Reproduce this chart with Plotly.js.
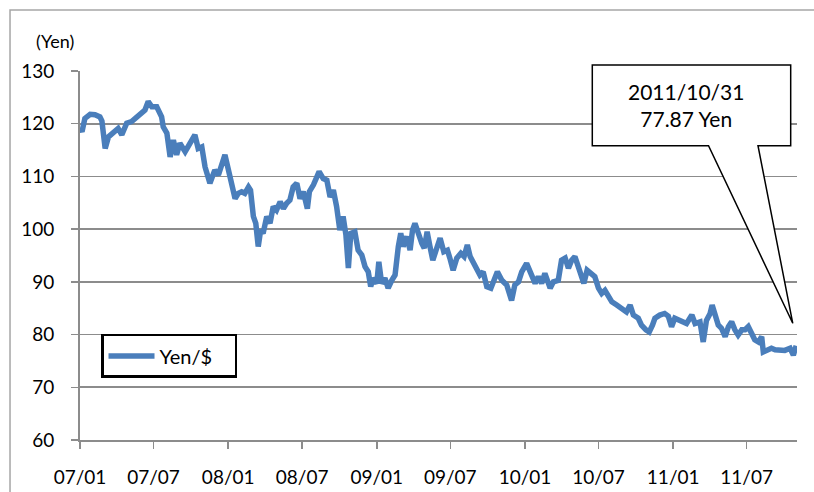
<!DOCTYPE html>
<html>
<head>
<meta charset="utf-8">
<script src="https://cdn.plot.ly/plotly-3.0.1.min.js"></script>
<style>html,body{margin:0;padding:0;background:#fff;}#chart{width:814px;height:492px;}</style>
</head>
<body>
<div id="chart"></div>
<script>
// Yen per US dollar
var dates = [
"2007-01-02","2007-01-06","2007-01-13","2007-01-26","2007-02-07","2007-02-19","2007-02-24","2007-03-04","2007-03-12","2007-03-24",
"2007-04-05","2007-04-14","2007-04-26","2007-05-08","2007-05-21","2007-06-02","2007-06-10","2007-06-18","2007-06-27","2007-07-09",
"2007-07-21","2007-07-25","2007-08-03","2007-08-11","2007-08-19","2007-08-27","2007-09-04","2007-09-17","2007-09-29","2007-10-11",
"2007-10-19","2007-10-28","2007-11-05","2007-11-17","2007-11-29","2007-12-08","2007-12-24","2008-01-01","2008-01-10","2008-01-18",
"2008-01-26","2008-02-03","2008-02-11","2008-02-20","2008-02-25","2008-03-03","2008-03-09","2008-03-15","2008-03-21","2008-03-27",
"2008-04-05","2008-04-13","2008-04-21","2008-04-29","2008-05-08","2008-05-16","2008-05-24","2008-06-01","2008-06-09","2008-06-18",
"2008-06-26","2008-07-04","2008-07-14","2008-07-19","2008-07-29","2008-08-06","2008-08-12","2008-08-22","2008-08-31","2008-09-08",
"2008-09-16","2008-09-24","2008-10-02","2008-10-10","2008-10-17","2008-10-23","2008-10-29","2008-11-08","2008-11-16","2008-11-25",
"2008-12-03","2008-12-11","2008-12-17","2008-12-23","2009-01-01","2009-01-06","2009-01-13","2009-01-21","2009-01-29","2009-02-07",
"2009-02-15","2009-02-23","2009-03-01","2009-03-07","2009-03-16","2009-03-24","2009-03-30","2009-04-05","2009-04-13","2009-04-22",
"2009-04-28","2009-05-05","2009-05-12","2009-05-19","2009-05-27","2009-06-06","2009-06-15","2009-06-24","2009-06-30","2009-07-08",
"2009-07-17","2009-07-27","2009-08-04","2009-08-12","2009-08-19","2009-08-27","2009-09-04","2009-09-12","2009-09-20","2009-09-29",
"2009-10-09","2009-10-17","2009-10-25","2009-11-05","2009-11-17","2009-11-29","2009-12-07","2009-12-16","2009-12-24","2010-01-05",
"2010-01-13","2010-01-26","2010-02-03","2010-02-11","2010-02-19","2010-03-04","2010-03-12","2010-03-24","2010-04-01","2010-04-10",
"2010-04-18","2010-04-26","2010-05-04","2010-05-12","2010-05-21","2010-05-26","2010-06-03","2010-06-14","2010-06-22","2010-07-01",
"2010-07-09","2010-07-17","2010-07-25","2010-08-03","2010-08-15","2010-08-27","2010-09-08","2010-09-17","2010-09-25","2010-10-07",
"2010-10-15","2010-10-26","2010-11-03","2010-11-11","2010-11-17","2010-11-29","2010-12-11","2010-12-20","2010-12-28","2011-01-05",
"2011-01-16","2011-01-22","2011-02-03","2011-02-16","2011-02-24","2011-03-08","2011-03-16","2011-03-24","2011-04-02","2011-04-07",
"2011-04-14","2011-04-22","2011-04-30","2011-05-09","2011-05-17","2011-05-25","2011-06-02","2011-06-10","2011-06-19","2011-06-27",
"2011-07-05","2011-07-13","2011-07-21","2011-07-30","2011-08-07","2011-08-11","2011-08-19","2011-08-31","2011-09-09","2011-09-21",
"2011-10-03","2011-10-16","2011-10-24","2011-10-31"
];
var yenPerDollar = [
119.0,118.5,121.0,121.8,121.7,121.3,120.5,115.3,117.5,118.2,
119.1,117.9,120.1,120.4,121.3,122.0,122.6,124.2,123.2,123.2,
121.3,119.4,118.2,113.7,116.9,114.1,116.3,114.7,116.3,117.9,
115.3,115.6,111.8,108.7,111.2,110.3,114.1,111.2,108.7,105.8,
106.8,107.1,106.8,108.0,107.4,102.4,101.1,96.7,99.8,99.2,
102.4,101.1,104.3,103.6,105.2,103.9,104.9,105.5,108.0,108.7,
105.8,107.1,103.9,107.1,108.4,110.0,110.9,109.6,109.3,106.1,
107.4,104.3,99.8,102.4,98.9,92.6,99.2,99.5,96.0,95.1,
92.9,91.9,89.1,90.7,89.7,93.8,89.7,90.7,88.8,90.3,
91.3,96.7,99.2,96.7,98.6,96.0,99.8,101.1,98.9,97.3,
96.4,99.5,96.7,94.1,96.0,98.3,95.7,96.0,94.5,92.2,
94.5,95.4,94.8,97.0,94.8,93.5,92.6,91.3,91.9,89.1,
88.8,90.3,91.9,90.3,89.4,86.5,89.4,90.0,91.9,93.5,
91.9,89.7,91.0,89.7,91.6,88.8,90.0,90.3,94.1,94.5,
92.6,94.1,94.8,92.9,91.6,89.7,92.2,91.6,91.0,88.8,
87.8,88.4,87.2,86.2,85.6,85.0,84.3,85.6,83.7,83.1,
81.8,80.9,80.5,81.8,83.1,83.7,84.0,83.5,81.5,83.1,
82.7,82.7,82.1,83.7,82.1,82.4,78.6,82.7,84.0,85.6,
83.4,81.8,81.2,79.6,81.5,82.4,80.9,79.9,80.9,80.9,
81.5,80.3,79.0,78.6,79.6,76.7,77.1,77.4,77.1,77.1,
77.0,77.4,76.1,77.87
];
var xTickDates = ["2007-01-01","2007-07-01","2008-01-01","2008-07-01","2009-01-01","2009-07-01","2010-01-01","2010-07-01","2011-01-01","2011-07-01"];
var xTickLabels = ["07/01","07/07","08/01","08/07","09/01","09/07","10/01","10/07","11/01","11/07"];
var seriesName = "Yen/$";
var calloutText = "2011/10/31<br>77.87 Yen";
var yUnit = "(Yen)";

var FONT = "Lato, 'Open Sans', sans-serif";
var trace = {
  x: dates, y: yenPerDollar, type: "scatter", mode: "lines", name: seriesName,
  line: {color: "#4a7ebb", width: 5.5}
};
var layout = {
  width: 814, height: 492,
  margin: {l: 80, r: 17, t: 71, b: 52},
  paper_bgcolor: "#ffffff", plot_bgcolor: "#ffffff",
  font: {family: FONT, size: 19, color: "#000"},
  showlegend: true,
  legend: {
    orientation: "h",
    x: 0.0293, y: 0.2873, xanchor: "left", yanchor: "top",
    bgcolor: "#ffffff", bordercolor: "#000000", borderwidth: 2.5,
    font: {family: FONT, size: 20, color: "#000"},
    itemwidth: 46, entrywidth: 70, entrywidthmode: "pixels"
  },
  xaxis: {
    type: "date", range: ["2007-01-01", "2011-11-02"],
    tickmode: "array", tickvals: xTickDates, ticktext: xTickLabels,
    ticks: "outside", ticklen: 7, tickwidth: 1.5, tickcolor: "#8c8c8c",
    showgrid: false, showline: true, linecolor: "#8c8c8c", linewidth: 2,
    zeroline: false, ticklabelstandoff: 12,
    tickfont: {family: FONT, size: 19, color: "#000"}
  },
  yaxis: {
    range: [60, 130], tickmode: "linear", tick0: 60, dtick: 10,
    ticks: "outside", ticklen: 7, tickwidth: 1.5, tickcolor: "#8c8c8c",
    showgrid: true, gridcolor: "#8c8c8c", gridwidth: 1.7,
    showline: true, linecolor: "#8c8c8c", linewidth: 2, zeroline: false,
    ticklabelstandoff: 13,
    tickfont: {family: FONT, size: 19, color: "#000"}
  },
  shapes: [
    {type: "path", xref: "paper", yref: "paper", layer: "above",
     path: "M -0.0976,-0.2 L -0.0976,1.1653 L 1.1,1.1653",
     line: {color: "#a6a6a6", width: 1.5}},
    {type: "path", xref: "paper", yref: "paper", layer: "above",
     path: "M 0.7145,1.0163 L 0.9912,1.0163 L 0.9912,0.7976 L 0.9456,0.7976 L 0.9941,0.3163 L 0.8766,0.7976 L 0.7145,0.7976 Z",
     fillcolor: "#ffffff", line: {color: "#000000", width: 1.5}}
  ],
  annotations: [
    {text: yUnit, xref: "paper", yref: "paper", x: -0.0349, y: 1.081,
     xanchor: "center", yanchor: "middle", showarrow: false,
     font: {family: FONT, size: 18, color: "#000"}},
    {text: calloutText, xref: "paper", yref: "paper", x: 0.8445, y: 0.907,
     xanchor: "center", yanchor: "middle", showarrow: false, align: "center",
     font: {family: FONT, size: 21, color: "#000"}}
  ]
};
Plotly.newPlot("chart", [trace], layout, {displayModeBar: false, staticPlot: true});
</script>
</body>
</html>
